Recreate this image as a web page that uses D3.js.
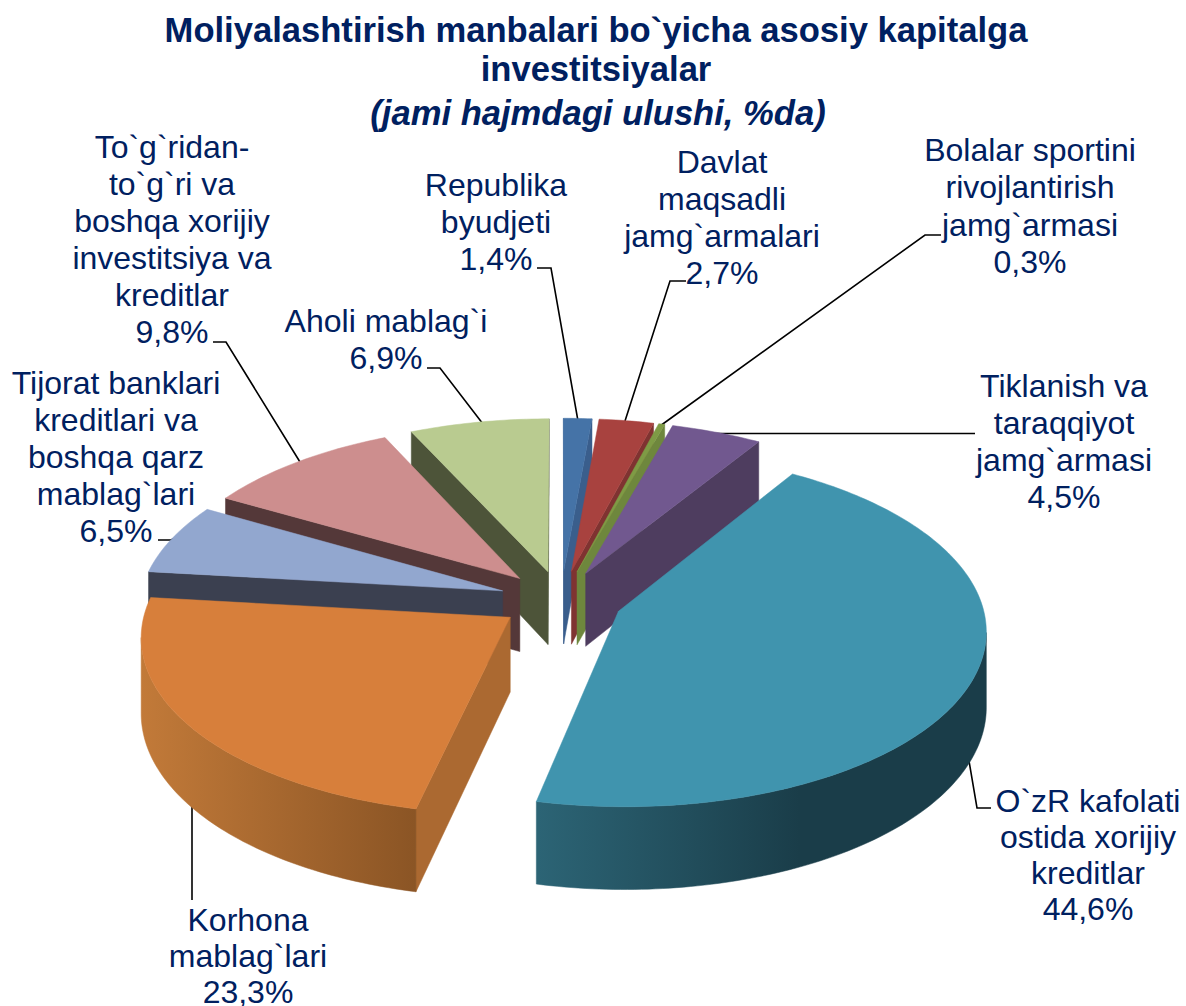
<!DOCTYPE html>
<html><head><meta charset="utf-8">
<script src="https://cdn.jsdelivr.net/npm/d3@7/dist/d3.min.js"></script>
<style>html,body{margin:0;padding:0;background:#fff}svg{display:block}</style>
</head><body><div id="c"></div>
<script>
const categories = ["Republika byudjeti","Davlat maqsadli jamg`armalari","Bolalar sportini rivojlantirish jamg`armasi","Tiklanish va taraqqiyot jamg`armasi","O`zR kafolati ostida xorijiy kreditlar","Korhona mablag`lari","Tijorat banklari kreditlari va boshqa qarz mablag`lari","To`g`ridan-to`g`ri va boshqa xorijiy investitsiya va kreditlar","Aholi mablag`i"];
const shares = [1.4,2.7,0.3,4.5,44.6,23.3,6.5,9.8,6.9];
const shareLabels = ["1,4%","2,7%","0,3%","4,5%","44,6%","23,3%","6,5%","9,8%","6,9%"];
const labelLines = [
 ["Republika","byudjeti"],["Davlat","maqsadli","jamg`armalari"],["Bolalar sportini","rivojlantirish","jamg`armasi"],
 ["Tiklanish va","taraqqiyot","jamg`armasi"],["O`zR kafolati","ostida xorijiy","kreditlar"],["Korhona","mablag`lari"],
 ["Tijorat banklari","kreditlari va","boshqa qarz","mablag`lari"],["To`g`ridan-","to`g`ri va","boshqa xorijiy","investitsiya va","kreditlar"],["Aholi mablag`i"]];
const topColors = ["#4573A7","#A8423F","#7E9B45","#71588F","#4094AE","#D77F3B","#92A7CF","#CD8E8E","#B9CB90"];
const wallColors = ["#3A5E8C","#7F3331","#6E873D","#4E3D5F","#1A3D49","#AB6931","#3B4050","#543839","#4D5439"];
const titleLines = ["Moliyalashtirish manbalari bo`yicha asosiy kapitalga","investitsiyalar"];
const subtitle = "(jami hajmdagi ulushi, %da)";

// layout
const W=1186,H=1006,CX=561,CY=600,A=363,B=173.5,K=0.10,EXPLODE=0.17,DEPTH=74,ROT=0;
const NAVY="#002060";
const labelPos=[[496,196],[722,173],[1030,161],[1064,397],[1088,812],[248,931],[116,394],[172,158],[386,332]];
const lineStep=[37,37,37.3,37,36,36,37,37,37];
const leaders=[
 [[537,268],[551,268],[578,421]],
 [[686,281],[670,281],[625,421]],
 [[941,235],[925,235],[660,426]],
 [[975,433.5],[714,433.5]],
 [[968,755],[977,808],[991,808]],
 [[192,805],[192,900]],
 [[158,540],[171,540],[175,538]],
 [[213,342],[226,342],[300,462]],
 [[427,368],[440,368],[483,424]]];
const arcGrad={4:[[538,"#2C6475"],[800,"#1A3D49"]],5:[[140,"#C27A39"],[415,"#8B5525"]]};

const svg=d3.select("#c").append("svg").attr("width",W).attr("height",H);
const defs=svg.append("defs");
const xs=d3.scaleLinear().domain([-1,1]).range([CX-A,CX+A]);
const ys=d3.scaleLinear().domain([-1,1]).range([CY-B,CY+B]);
const path=d3.line().x(d=>d[0]).y(d=>d[1]);
const pie=d3.pie().sort(null).startAngle(ROT).endAngle(ROT+2*Math.PI);
const arcs=pie(shares);

function slice(a,i){
  const mid=(a.startAngle+a.endAngle)/2;
  const ex=EXPLODE*Math.sin(mid), ey=-EXPLODE*Math.cos(mid);
  const P=(u,v,z)=>{const U=u+ex,V=v+ey,w=1/(1-K*V);return [xs(U*w), ys(V*w)+z*DEPTH*w];};
  const n=Math.max(2,Math.ceil((a.endAngle-a.startAngle)/(Math.PI/180)));
  const rim=d3.range(n+1).map(j=>{const t=a.startAngle+(a.endAngle-a.startAngle)*j/n;return [Math.sin(t),-Math.cos(t)];});
  return {i,rim,P,apexY:P(0,0,0)[1]};
}
const slices=arcs.map(slice).sort((p,q)=>p.apexY-q.apexY);

// leader lines sit beneath the pie
svg.append("g").selectAll("path").data(leaders).join("path")
  .attr("d",d=>path(d)).attr("fill","none").attr("stroke","#000").attr("stroke-width",1.6);

const pieG=svg.append("g");
slices.forEach(s=>{
  const g=pieG.append("g");
  const top=s.rim.map(q=>s.P(q[0],q[1],0));
  const ap=s.P(0,0,0);
  const wall=(pts,fill)=>{
    const upper=pts.map(q=>s.P(q[0],q[1],0)); const lower=pts.map(q=>s.P(q[0],q[1],1)).reverse();
    g.append("path").attr("d",path(upper.concat(lower))+"Z").attr("fill",fill).attr("stroke",fill).attr("stroke-width",0.5);
  };
  // walls: an edge of the clockwise top outline faces the viewer when it runs leftwards
  const first=s.rim[0], last=s.rim[s.rim.length-1];
  if(top[0][0]<ap[0]-0.01) wall([[0,0],first],wallColors[s.i]);
  if(ap[0]<top[top.length-1][0]-0.01) wall([last,[0,0]],wallColors[s.i]);
  let fill=wallColors[s.i];
  if(arcGrad[s.i]){
    const id="grad"+s.i, st=arcGrad[s.i];
    const lg=defs.append("linearGradient").attr("id",id).attr("gradientUnits","userSpaceOnUse")
      .attr("x1",st[0][0]).attr("x2",st[1][0]).attr("y1",0).attr("y2",0);
    lg.append("stop").attr("offset",0).attr("stop-color",st[0][1]);
    lg.append("stop").attr("offset",1).attr("stop-color",st[1][1]);
    fill=`url(#${id})`;
  }
  let run=[];
  const flush=()=>{ if(run.length>1) wall(run,fill); run=[]; };
  for(let j=0;j<s.rim.length-1;j++){
    if(top[j+1][0]<top[j][0]){ if(!run.length) run.push(s.rim[j]); run.push(s.rim[j+1]); }
    else flush();
  }
  flush();
  g.append("path").attr("d",path([ap].concat(top))+"Z").attr("fill",topColors[s.i]).attr("stroke",topColors[s.i]).attr("stroke-width",0.5);
});

// data labels
const fs=32;
categories.forEach((c,i)=>{
  const t=svg.append("text").attr("text-anchor","middle").attr("font-family","'Liberation Sans',Arial,sans-serif")
    .attr("font-size",fs).attr("fill",NAVY);
  labelLines[i].concat([shareLabels[i]]).forEach((l,k)=>{
    t.append("tspan").attr("x",labelPos[i][0]).attr("y",labelPos[i][1]+k*lineStep[i]).text(l);
  });
});

// title
const tg=svg.append("text").attr("text-anchor","middle").attr("font-family","'Liberation Sans',Arial,sans-serif")
  .attr("font-size",34.6).attr("font-weight","bold").attr("fill",NAVY);
titleLines.forEach((l,k)=>tg.append("tspan").attr("x",596).attr("y",42+k*39).text(l));
tg.append("tspan").attr("x",598).attr("y",125).attr("font-style","italic").text(subtitle);
</script></body></html>
